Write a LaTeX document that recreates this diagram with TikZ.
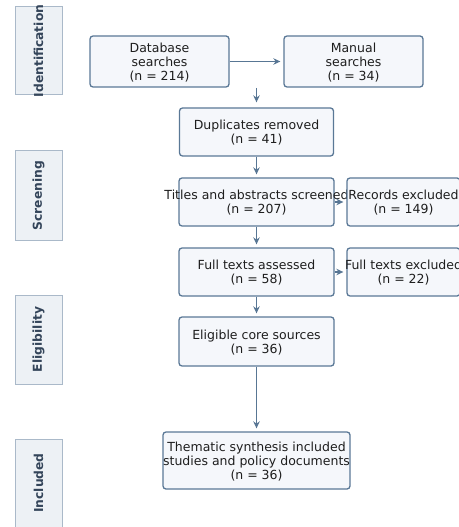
\documentclass[tikz,border=0pt]{standalone}
\usepackage{fontspec}
\setmainfont{DejaVu Sans}
\usetikzlibrary{arrows.meta}
\definecolor{boxedge}{HTML}{5A7896}
\definecolor{boxfill}{HTML}{F5F7FB}
\definecolor{stagefill}{HTML}{EDF1F5}
\definecolor{stageedge}{HTML}{AAB9C9}
\definecolor{stagetext}{HTML}{34455A}
\definecolor{arrowcol}{HTML}{587694}
\definecolor{txt}{HTML}{1E1E1E}
\newcommand\fixw[1]{\makebox[0pt]{\raisebox{-2bp}[\height][\depth]{\begin{tabular}{@{}c@{}}#1\end{tabular}}}}
\tikzset{
  x=1bp, y=-1bp,
  flowbox/.style={draw=boxedge, fill=boxfill, line width=1.3bp, rounded corners=3bp,
    inner sep=0pt, text=txt, font=\fontsize{12.5bp}{14bp}\selectfont},
  stagebox/.style={draw=stageedge, fill=stagefill, line width=1bp, inner sep=0pt,
    minimum width=47bp},
  stagelabel/.style={rotate=90, text=stagetext, inner sep=0pt,
    font=\fontsize{12.3bp}{14bp}\selectfont\bfseries},
  arr/.style={draw=arrowcol, line width=1.5bp, -{Stealth[length=7bp,width=6.5bp]}, shorten >=3bp}
}
\begin{document}
\begin{tikzpicture}
\useasboundingbox (0,0) rectangle (459,527);
% stage boxes
\node[stagebox, minimum height=88bp] (sid) at (38.5,51) {};
\node[stagelabel] (lid) at (sid.center) {Identification};
\node[stagebox, minimum height=89bp] (ssc) at (38.5,195.5) {};
\node[stagelabel] (lsc) at (ssc.center) {Screening};
\node[stagebox, minimum height=89bp] (sel) at (38.5,339.5) {};
\node[stagelabel] (lel) at (sel.center) {Eligibility};
\node[stagebox, minimum height=96bp] (sin) at (38.5,487) {};
\node[stagelabel] (lin) at (38.5,483) {Included};
% flow boxes
\node[flowbox, minimum width=139bp, minimum height=51bp] (db) at (159.5,61.5) {\fixw{Database\\searches\\(n = 214)}};
\node[flowbox, minimum width=139bp, minimum height=51bp] (man) at (353.5,61.5) {\fixw{Manual\\searches\\(n = 34)}};
\node[flowbox, minimum width=154bp, minimum height=48bp] (dup) at (256.5,132) {\fixw{Duplicates removed\\(n = 41)}};
\node[flowbox, minimum width=155bp, minimum height=48bp] (tas) at (256.5,202) {\fixw{Titles and abstracts screened\\(n = 207)}};
\node[flowbox, minimum width=113bp, minimum height=48bp] (rex) at (403.5,202) {\fixw{Records excluded\\(n = 149)}};
\node[flowbox, minimum width=155bp, minimum height=48bp] (fta) at (256.5,272) {\fixw{Full texts assessed\\(n = 58)}};
\node[flowbox, minimum width=113bp, minimum height=48bp] (fte) at (403.5,272) {\fixw{Full texts excluded\\(n = 22)}};
\node[flowbox, minimum width=155bp, minimum height=49bp] (elg) at (256.5,341.5) {\fixw{Eligible core sources\\(n = 36)}};
\node[flowbox, minimum width=187bp, minimum height=57bp] (thm) at (256.5,460.5) {\fixw{Thematic synthesis included\\studies and policy documents\\(n = 36)}};
% connectors
\coordinate (fork) at (256.5,88);
\draw[arr] (db.east) -- (man.west);
\draw[arr, shorten >=5bp] (fork) -- (dup.north);
\draw[arr] (dup.south) -- (tas.north);
\draw[arr] (tas.east) -- (rex.west);
\draw[arr] (tas.south) -- (fta.north);
\draw[arr] (fta.east) -- (fte.west);
\draw[arr] (fta.south) -- (elg.north);
\draw[arr] (elg.south) -- (thm.north);
\end{tikzpicture}
\end{document}
